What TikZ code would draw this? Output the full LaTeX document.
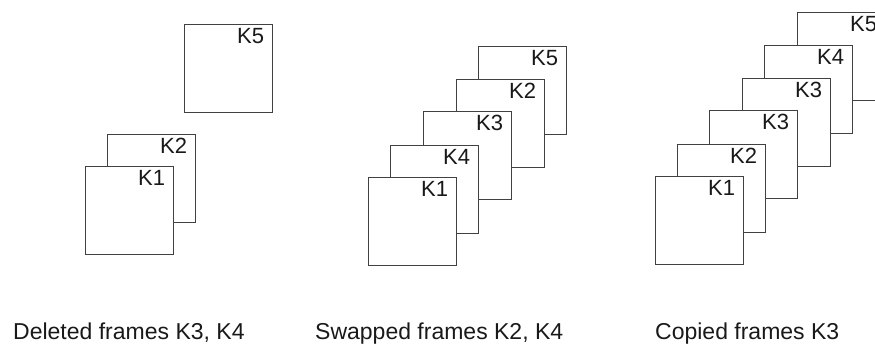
\documentclass[tikz,border=0pt]{standalone}
\usepackage{fontspec}
\setmainfont{Liberation Sans}
\definecolor{linegray}{RGB}{65,65,65}
\definecolor{inkgray}{RGB}{25,25,25}
\tikzset{
  klab/.style={anchor=north east, inner sep=0pt, xshift=-9pt, yshift=-4pt,
    text=inkgray, font=\fontsize{22}{26}\selectfont},
  frame/.style={draw=linegray, fill=white, line width=1.25pt,
    minimum size=88pt, inner sep=0pt, anchor=north west,
    label={[klab]north east:#1}},
  caption/.style={anchor=base west, inner sep=0pt, text=inkgray,
    font=\fontsize{23}{27}\selectfont}
}
\begin{document}
\begin{tikzpicture}[x=1pt,y=-1pt]
  \useasboundingbox (0,0) rectangle (875,343);
  \clip (0,0) rectangle (875,343);

  % Deleted frames: K1, K2, K5
  \node[frame=K5] (d5) at (184,24) {};
  \node[frame=K2] (d2) at (107,134) {};
  \node[frame=K1] (d1) at (85,166) {};

  % Swapped frames: K1, K4, K3, K2, K5
  \node[frame=K5] (s5) at (478,46) {};
  \node[frame=K2] (s2) at (456,79) {};
  \node[frame=K3] (s3) at (423,111) {};
  \node[frame=K4] (s4) at (390,145) {};
  \node[frame=K1] (s1) at (368,177) {};

  % Copied frames: K1, K2, K3, K3, K4, K5
  \node[frame=K5] (c5) at (797,12) {};
  \node[frame=K4] (c4) at (764,45) {};
  \node[frame=K3] (c3b) at (742,78) {};
  \node[frame=K3] (c3a) at (709,110) {};
  \node[frame=K2] (c2) at (677,144) {};
  \node[frame=K1] (c1) at (655,176) {};

  % Captions
  \node[caption] (capd) at (13,339) {Deleted frames K3, K4};
  \node[caption] (caps) at (315,339) {Swapped frames K2, K4};
  \node[caption] (capc) at (655,339) {Copied frames K3};
\end{tikzpicture}
\end{document}
